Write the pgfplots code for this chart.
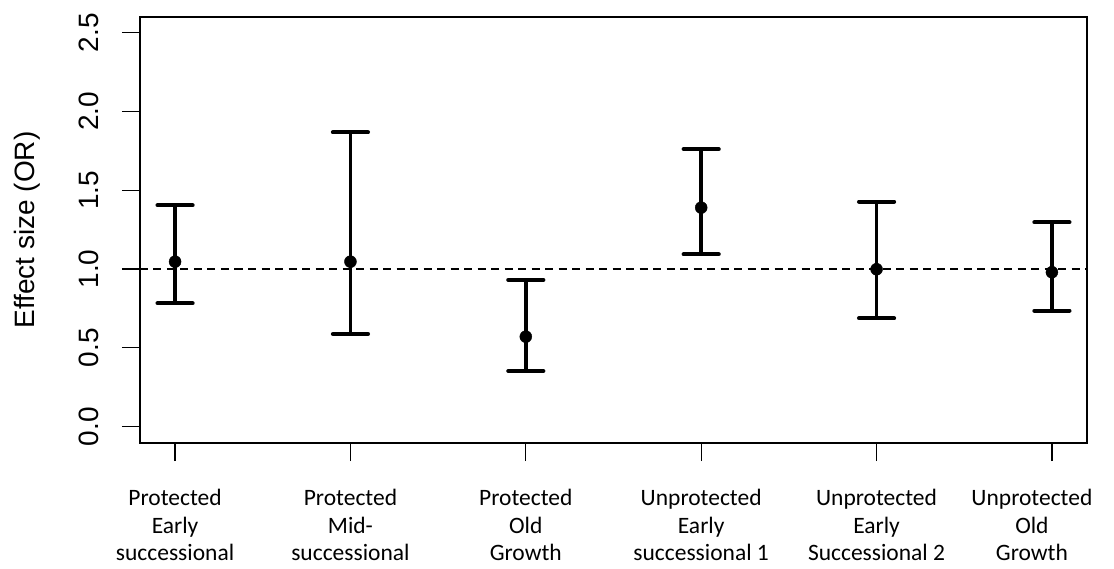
\documentclass[border=0pt]{standalone}
\usepackage{fontspec}
\setmainfont{Liberation Sans}
\newfontfamily\carlito{Carlito}
\usepackage{pgfplots}
\pgfplotsset{compat=1.18}
\pgfplotstableread{
x y ep em
1 1.047 0.358 0.264
2 1.047 0.821 0.459
3 0.571 0.360 0.218
4 1.390 0.372 0.296
5 0.999 0.429 0.311
6 0.980 0.317 0.244
}\ortable
\begin{document}
\begin{tikzpicture}
\useasboundingbox (-140bp,-126bp) rectangle (974bp,443bp);
\begin{axis}[
  at={(0,0)}, anchor=south west,
  scale only axis, width=947bp, height=426bp,
  xmin=0.8, xmax=6.2, ymin=-0.104, ymax=2.6,
  axis line style={line width=1.3bp},
  tick align=outside, major tick length=18bp,
  tick style={line width=1.3bp, black},
  xtick pos=bottom, ytick pos=left,
  xtick={1,2,3,4,5},
  xticklabels={{Protected\\Early\\successional},{Protected\\Mid-\\successional},{Protected\\Old\\Growth},{Unprotected\\Early\\successional 1},{Unprotected\\Early\\Successional 2}},
  extra x ticks={6},
  extra x tick labels={{Unprotected\\Old\\Growth}},
  extra x tick style={xticklabel style={xshift=-20bp}},
  xticklabel style={align=center, anchor=north, yshift=-25bp, font={\carlito\fontsize{23.5bp}{27.5bp}\selectfont}},
  ytick={0,0.5,1,1.5,2,2.5},
  yticklabel style={xshift=-23bp, rotate=90, anchor=base, font={\fontsize{28bp}{34bp}\selectfont}},
  /pgf/number format/.cd, fixed, fixed zerofill, precision=1, assume math mode=true,
  /pgfplots/.cd,
  ylabel={Effect size (OR)},
  every axis y label/.style={at={(rel axis cs:0,0.5)}, xshift=-105bp, rotate=90, anchor=base, font={\fontsize{28bp}{34bp}\selectfont}},
]
\addplot[black, line width=1.5bp, dash pattern=on 8bp off 5.5bp] coordinates {(0.8,1) (6.2,1)};
\addplot[only marks, mark=*, mark size=6bp, black,
  error bars/.cd, y dir=both, y explicit,
  error bar style={line width=3.6bp, black},
  error mark options={rotate=90, mark size=17.5bp, line width=4.2bp, line cap=round, black}]
  table[x=x, y=y, y error plus=ep, y error minus=em]{\ortable};
\end{axis}
\end{tikzpicture}
\end{document}
